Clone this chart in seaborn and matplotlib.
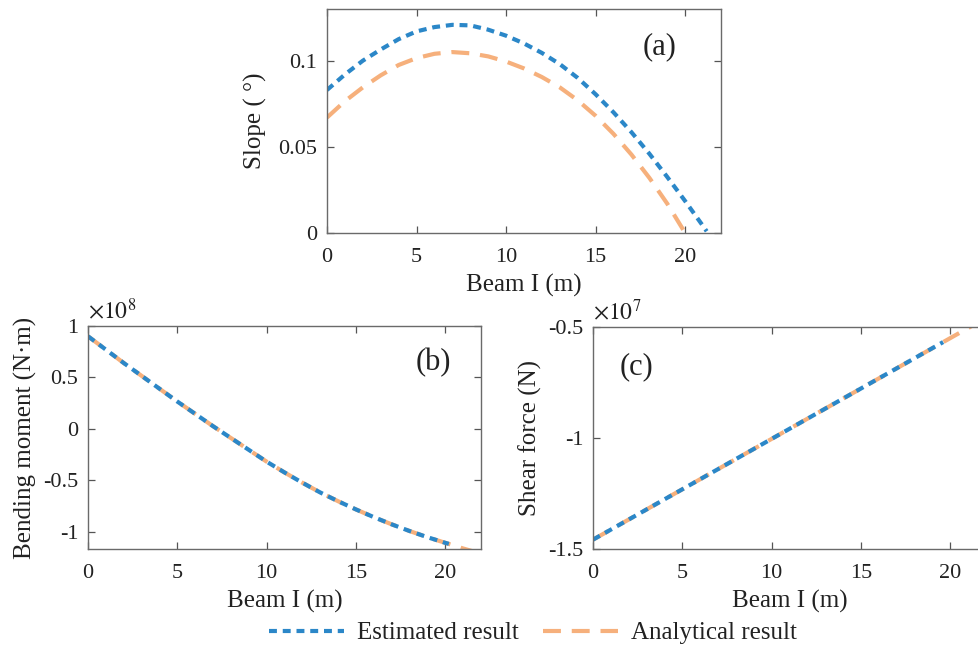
import numpy as np
import pandas as pd
import matplotlib
matplotlib.use("Agg")
import matplotlib.pyplot as plt
import seaborn as sns

# ---- data --------------------------------------------------------------
# (a) slope along beam I, degrees
slope_x_est = [0, 1, 2, 3, 4, 5, 6, 7, 8, 9, 10, 11, 12, 13, 14, 15, 16, 17, 18, 19, 20, 21, 21.2]
slope_est = [0.083, 0.092, 0.100, 0.1065, 0.1125, 0.117, 0.1195, 0.1208, 0.1205, 0.118, 0.1145,
             0.110, 0.1045, 0.098, 0.090, 0.0805, 0.070, 0.0585, 0.046, 0.0325, 0.0185, 0.004, 0.001]
slope_x_ana = [0, 1, 2, 3, 4, 5, 6, 7, 8, 9, 10, 11, 12, 13, 14, 15, 16, 17, 18, 19, 20]
slope_ana = [0.067, 0.0765, 0.0845, 0.0915, 0.0975, 0.1015, 0.104, 0.105, 0.1043, 0.1025, 0.0995,
             0.0955, 0.0905, 0.0845, 0.0770, 0.0680, 0.0575, 0.0455, 0.032, 0.0170, 0.0]

# (b) bending moment, x 1e8 N*m
moment_x_est = [0, 1, 2, 3, 4, 5, 6, 7, 8, 9, 10, 11, 12, 13, 14, 15, 16, 17, 18, 19, 20, 20.2]
moment_est = [0.90, 0.77, 0.64, 0.515, 0.39, 0.265, 0.145, 0.025, -0.09, -0.205, -0.32,
              -0.425, -0.525, -0.62, -0.705, -0.785, -0.86, -0.93, -0.995, -1.055, -1.11, -1.12]
moment_x_ana = [0, 1, 2, 3, 4, 5, 6, 7, 8, 9, 10, 11, 12, 13, 14, 15, 16, 17, 18, 19, 20, 21, 21.5]
moment_ana = [0.90, 0.77, 0.64, 0.515, 0.39, 0.265, 0.145, 0.025, -0.09, -0.205, -0.32,
              -0.425, -0.525, -0.62, -0.705, -0.785, -0.86, -0.93, -0.995, -1.055, -1.11, -1.165, -1.19]

# (c) shear force, x 1e7 N
shear_x_est = [0, 5, 10, 15, 19.6]
shear_est = [-1.458, -1.231, -1.004, -0.777, -0.568]
shear_x_ana = [0, 5, 10, 15, 20, 21.5]
shear_ana = [-1.458, -1.231, -1.004, -0.777, -0.550, -0.482]

series_names = ["Estimated result", "Analytical result"]

# ---- style -------------------------------------------------------------
sns.set_style("ticks")
plt.rcParams["font.family"] = ["Liberation Serif", "DejaVu Serif"]
plt.rcParams["mathtext.fontset"] = "stix"
plt.rcParams["axes.unicode_minus"] = False

blue = "#2b87c8"
orange = "#f6b07c"
palette = {series_names[0]: blue, series_names[1]: orange}
dashes = {series_names[0]: (1.9, 1.4), series_names[1]: (4.3, 2.6)}

W, H = 979, 660
fig = plt.figure(figsize=(W / 100, H / 100), dpi=100)


def box(l, t, r, b):
    return [l / W, (H - b) / H, (r - l) / W, (b - t) / H]


ax_a = fig.add_axes(box(327, 9, 721, 233))
ax_b = fig.add_axes(box(88, 326, 481, 549))
ax_c = fig.add_axes(box(593, 327, 986, 549))


def frame(x_est, y_est, x_ana, y_ana):
    return pd.concat([
        pd.DataFrame({"x": x_est, "y": y_est, "series": series_names[0]}),
        pd.DataFrame({"x": x_ana, "y": y_ana, "series": series_names[1]}),
    ], ignore_index=True)


panels = [
    (ax_a, frame(slope_x_est, slope_est, slope_x_ana, slope_ana)),
    (ax_b, frame(moment_x_est, moment_est, moment_x_ana, moment_ana)),
    (ax_c, frame(shear_x_est, shear_est, shear_x_ana, shear_ana)),
]

for ax, df in panels:
    # analytical first so the estimated curve sits on top
    for name in reversed(series_names):
        sns.lineplot(data=df[df.series == name], x="x", y="y", ax=ax,
                     color=palette[name], lw=3.0, legend=False,
                     dashes=False, sort=False)
        ax.lines[-1].set_dashes(dashes[name])
        ax.lines[-1].set_dash_capstyle("butt")
        ax.lines[-1].set_label(name)

tick_fs = 16
label_fs = 18

for ax in (ax_a, ax_b, ax_c):
    ax.set_xlim(0, 22)
    ax.set_xticks([0, 5, 10, 15, 20])
    ax.tick_params(direction="in", top=True, right=True, length=5, width=0.9,
                   color="#555555", labelsize=tick_fs, labelcolor="#222222")
    ax.tick_params(axis="x", pad=11)
    ax.tick_params(axis="y", pad=7)
    for s in ax.spines.values():
        s.set_visible(True)
        s.set_color("#6a6a6a")
        s.set_linewidth(1.0)
    ax.set_xlabel("Beam I (m)", fontsize=label_fs, color="#222222", labelpad=5)

# (a)
ax_a.set_ylim(0, 0.13)
ax_a.set_yticks([0, 0.05, 0.1])
ax_a.set_yticklabels(["0", "0.05", "0.1"])
ax_a.set_ylabel("Slope ( °)", fontsize=label_fs, color="#222222", labelpad=8)
ax_a.text(0.845, 0.83, "(a)", transform=ax_a.transAxes, fontsize=22,
          ha="center", va="center", color="#222222")

# (b)
ax_b.set_ylim(-1.17, 1.0)
ax_b.set_yticks([-1, -0.5, 0, 0.5, 1])
ax_b.set_yticklabels(["-1", "-0.5", "0", "0.5", "1"])
ax_b.set_ylabel("Bending moment (N·m)", fontsize=label_fs, color="#222222", labelpad=4)
ax_b.text(0.878, 0.834, "(b)", transform=ax_b.transAxes, fontsize=22,
          ha="center", va="center", color="#222222")
ax_b.text(0.0, 1.012, r"$\times 10^{8}$", transform=ax_b.transAxes, fontsize=17,
          ha="left", va="bottom", color="#222222")

# (c)
ax_c.set_ylim(-1.5, -0.5)
ax_c.set_yticks([-1.5, -1, -0.5])
ax_c.set_yticklabels(["-1.5", "-1", "-0.5"])
ax_c.set_ylabel("Shear force (N)", fontsize=label_fs, color="#222222", labelpad=4)
ax_c.text(0.111, 0.82, "(c)", transform=ax_c.transAxes, fontsize=22,
          ha="center", va="center", color="#222222")
ax_c.text(0.0, 1.012, r"$\times 10^{7}$", transform=ax_c.transAxes, fontsize=17,
          ha="left", va="bottom", color="#222222")

# shared legend below the lower panels
handles = []
labels = []
for name in series_names:
    for ln in ax_a.lines:
        if ln.get_label() == name:
            handles.append(ln)
            labels.append(name)
            break
leg = fig.legend(handles, labels, loc="center", bbox_to_anchor=(533 / W, 1 - 633 / H),
                 ncol=2, frameon=False, fontsize=18, handlelength=3.0,
                 columnspacing=1.0, handletextpad=0.5)
for t in leg.get_texts():
    t.set_color("#222222")

fig.savefig("out.png", dpi=100)
